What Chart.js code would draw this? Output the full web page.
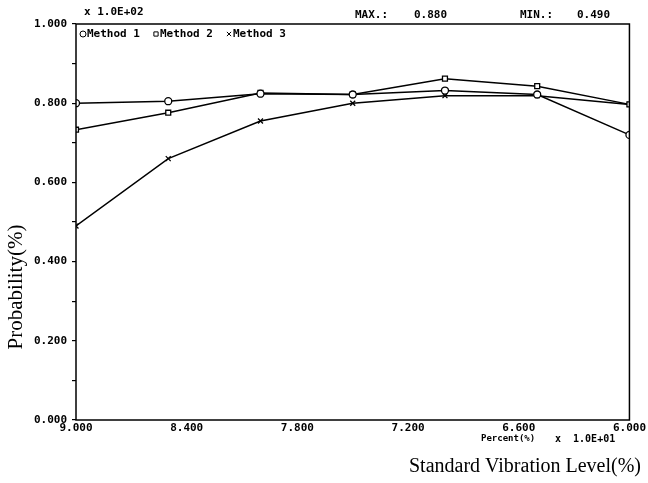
<!DOCTYPE html>
<html>
<head>
<meta charset="utf-8">
<script src="https://cdn.jsdelivr.net/npm/chart.js@4.4.0/dist/chart.umd.min.js"></script>
<style>
  html, body { margin: 0; padding: 0; background: #fff; }
  #wrap { width: 648px; height: 483px; }
</style>
</head>
<body>
<div id="wrap"><canvas id="myChart" width="648" height="483"></canvas></div>
<script>
var levels = [9.0, 8.5, 8.0, 7.5, 7.0, 6.5, 6.0];
var method1 = [0.800, 0.805, 0.824, 0.822, 0.832, 0.822, 0.720];
var method2 = [0.733, 0.776, 0.826, 0.822, 0.862, 0.843, 0.797];
var method3 = [0.490, 0.660, 0.755, 0.800, 0.819, 0.819, 0.797];
var seriesNames = ["Method 1", "Method 2", "Method 3"];
var markers = ["circle", "rect", "crossRot"];

var mono = "DejaVu Sans Mono";
var serif = "Liberation Serif";

function pts(vals) {
  return vals.map(function (v, i) { return { x: levels[i], y: v }; });
}

function ds(name, vals, marker) {
  return {
    label: name,
    data: pts(vals),
    borderColor: "#000",
    borderWidth: 1.5,
    pointStyle: marker,
    pointRadius: 3.5,
    pointBorderWidth: 1.3,
    pointBorderColor: "#000",
    pointBackgroundColor: "#fff",
    tension: 0
  };
}

// frame, legend row and loose text around the plot
var extras = {
  id: "extras",
  afterDraw: function (chart) {
    var c = chart.ctx, a = chart.chartArea;
    c.save();
    c.strokeStyle = "#000";
    c.lineWidth = 1.5;
    c.strokeRect(a.left, a.top, a.right - a.left, a.bottom - a.top);

    c.textBaseline = "middle";
    c.textAlign = "left";

    // legend inside the frame, one line, hollow markers
    c.font = "bold 11px '" + mono + "'";
    var lx = a.left + 7, ly = a.top + 10;
    chart.data.datasets.forEach(function (d) {
      c.lineWidth = 1;
      c.strokeStyle = "#000";
      c.fillStyle = "#fff";
      Chart.helpers.drawPoint(c, { pointStyle: d.pointStyle, radius: 3, borderWidth: 1 }, lx, ly);
      c.fillStyle = "#000";
      c.fillText(d.label, lx + 4, ly);
      lx += 73;
    });

    c.fillStyle = "#000";
    c.fillText("x 1.0E+02", 84, 12);
    c.fillText("MAX.:", 355, 15);
    c.fillText("0.880", 414, 15);
    c.fillText("MIN.:", 520, 15);
    c.fillText("0.490", 577, 15);

    c.font = "bold 9px '" + mono + "'";
    c.fillText("Percent(%)", 481, 439);
    c.font = "bold 10px '" + mono + "'";
    c.fillText("x  1.0E+01", 555, 439);

    c.font = "20px '" + serif + "'";
    c.textAlign = "right";
    c.fillText("Standard Vibration Level(%)", 641, 467);

    c.translate(16, 287);
    c.rotate(-Math.PI / 2);
    c.textAlign = "center";
    c.font = "21px '" + serif + "'";
    c.fillText("Probability(%)", 0, 0);
    c.restore();
  }
};

new Chart("myChart", {
  type: "line",
  data: {
    datasets: [
      ds(seriesNames[0], method1, markers[0]),
      ds(seriesNames[1], method2, markers[1]),
      ds(seriesNames[2], method3, markers[2])
    ]
  },
  options: {
    responsive: false,
    animation: false,
    layout: { padding: { top: 24, right: 16, left: 0, bottom: 0 } },
    plugins: {
      legend: { display: false },
      tooltip: { enabled: false }
    },
    scales: {
      x: {
        type: "linear",
        min: 6,
        max: 9,
        reverse: true,
        border: { display: false },
        grid: { display: false, drawTicks: false, tickLength: 0 },
        afterFit: function (s) { s.height = 63; },
        ticks: {
          stepSize: 0.6,
          padding: 2,
          color: "#000",
          maxRotation: 0,
          font: { family: mono, size: 11, weight: "bold" },
          callback: function (v) { return Number(v).toFixed(3); }
        }
      },
      y: {
        min: 0,
        max: 1,
        border: { display: false },
        grid: { drawOnChartArea: false, tickLength: 4, color: "#000", lineWidth: 1.2 },
        afterFit: function (s) { s.width = 76; },
        ticks: {
          stepSize: 0.1,
          padding: 5,
          color: "#000",
          font: { family: mono, size: 11, weight: "bold" },
          callback: function (v) {
            return Math.round(v * 10) % 2 === 0 ? Number(v).toFixed(3) : "";
          }
        }
      }
    }
  },
  plugins: [extras]
});
</script>
</body>
</html>
